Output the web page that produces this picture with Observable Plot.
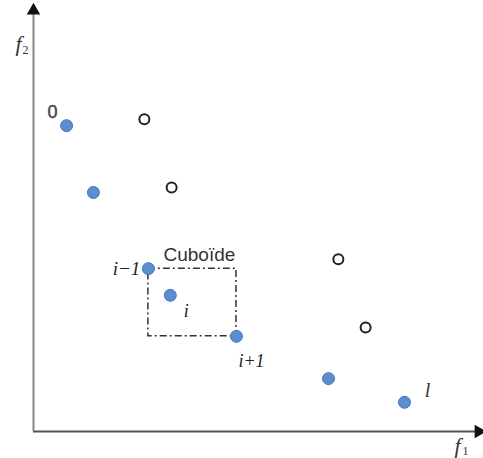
<!DOCTYPE html>
<html><head><meta charset="utf-8">
<script src="https://cdn.jsdelivr.net/npm/d3@7"></script>
<script src="https://cdn.jsdelivr.net/npm/@observablehq/plot@0.6"></script>
<style>body{margin:0;background:#fff}</style>
</head><body><div id="chart"></div>
<script>
// Pareto-front (filled) points and dominated (open) points
const frontF1 = [7.4, 13.4, 25.7, 30.6, 45.4, 66.0, 83.0];
const frontF2 = [72.3, 56.5, 38.5, 32.2, 22.5, 12.5, 6.9];
const frontLabels = ["0", "", "i\u22121", "i", "i+1", "", "l"];
const otherF1 = [24.8, 30.9, 68.2, 74.3];
const otherF2 = [73.8, 57.7, 40.7, 24.6];
const axisMax = 100;

const front = frontF1.map((x, k) => ({x, y: frontF2[k], label: frontLabels[k]}));
const others = otherF1.map((x, k) => ({x, y: otherF2[k]}));
const box = [{x1: front[2].x, x2: front[4].x, y1: front[4].y, y2: front[2].y}];
const lab = (t) => front.filter(d => d.label === t);
const serif = "Liberation Serif, Times New Roman, serif";
const sans = "Liberation Sans, Arial, sans-serif";
const yEnd = [{x: 0, y: axisMax}], xEnd = [{x: axisMax, y: 0}];

const chart = Plot.plot({
  width: 483, height: 458,
  marginLeft: 33, marginRight: 3, marginTop: 8, marginBottom: 27,
  x: {domain: [0, axisMax], axis: null},
  y: {domain: [0, axisMax], axis: null},
  marks: [
    Plot.ruleY([0], {stroke: "#555", strokeWidth: 2}),
    Plot.ruleX([0], {stroke: "#888", strokeWidth: 2}),
    Plot.dot(xEnd, {x: "x", y: "y", symbol: "triangle", rotate: 90, r: 5, fill: "#111", dx: -2}),
    Plot.dot(yEnd, {x: "x", y: "y", symbol: "triangle", r: 5, fill: "#111", dy: 2}),
    Plot.rect(box, {x1: "x1", x2: "x2", y1: "y1", y2: "y2", fill: "none", stroke: "#333", strokeWidth: 1.5, strokeDasharray: "7,3,2,3"}),
    Plot.dot(others, {x: "x", y: "y", r: 5, stroke: "#222", strokeWidth: 2, fill: "white"}),
    Plot.dot(front, {x: "x", y: "y", r: 6, fill: "#5b8dd0", stroke: "#4677b8", strokeWidth: 1}),
    Plot.text(lab("0"), {x: "x", y: "y", text: "label", dx: -14, dy: -13, fontSize: 18, fill: "#444", stroke: "#444", strokeWidth: 0.4, fontFamily: sans}),
    Plot.text(lab("i\u22121"), {x: "x", y: "y", text: "label", dx: -8, dy: 0, textAnchor: "end", fontSize: 19, fontStyle: "italic", fill: "#222", fontFamily: serif}),
    Plot.text(lab("i"), {x: "x", y: "y", text: "label", dx: 16, dy: 16, fontSize: 18, fontStyle: "italic", fill: "#222", fontFamily: serif}),
    Plot.text(lab("i+1"), {x: "x", y: "y", text: "label", dx: 2, dy: 25, textAnchor: "start", fontSize: 18, fontStyle: "italic", fill: "#222", fontFamily: serif}),
    Plot.text(lab("l"), {x: "x", y: "y", text: "label", dx: 23, dy: -12, fontSize: 20, fontStyle: "italic", fill: "#333", fontFamily: serif}),
    Plot.text(box, {x: (d) => (d.x1 + d.x2) / 2, y: "y2", text: () => "Cubo\u00efde", dx: 7, dy: -14, fontSize: 19, fill: "#333", fontFamily: sans}),
    Plot.text(yEnd, {x: "x", y: "y", text: () => "f", dx: -15, dy: 35, fontSize: 22, fontStyle: "italic", fill: "#333", fontFamily: serif}),
    Plot.text(yEnd, {x: "x", y: "y", text: () => "2", dx: -8, dy: 42, fontSize: 12, fill: "#333", fontFamily: serif}),
    Plot.text(xEnd, {x: "x", y: "y", text: () => "f", dx: -23, dy: 14, fontSize: 22, fontStyle: "italic", fill: "#333", fontFamily: serif}),
    Plot.text(xEnd, {x: "x", y: "y", text: () => "1", dx: -15, dy: 20, fontSize: 12, fill: "#333", fontFamily: serif})
  ]
});
document.getElementById("chart").append(chart);
</script>
</body></html>
